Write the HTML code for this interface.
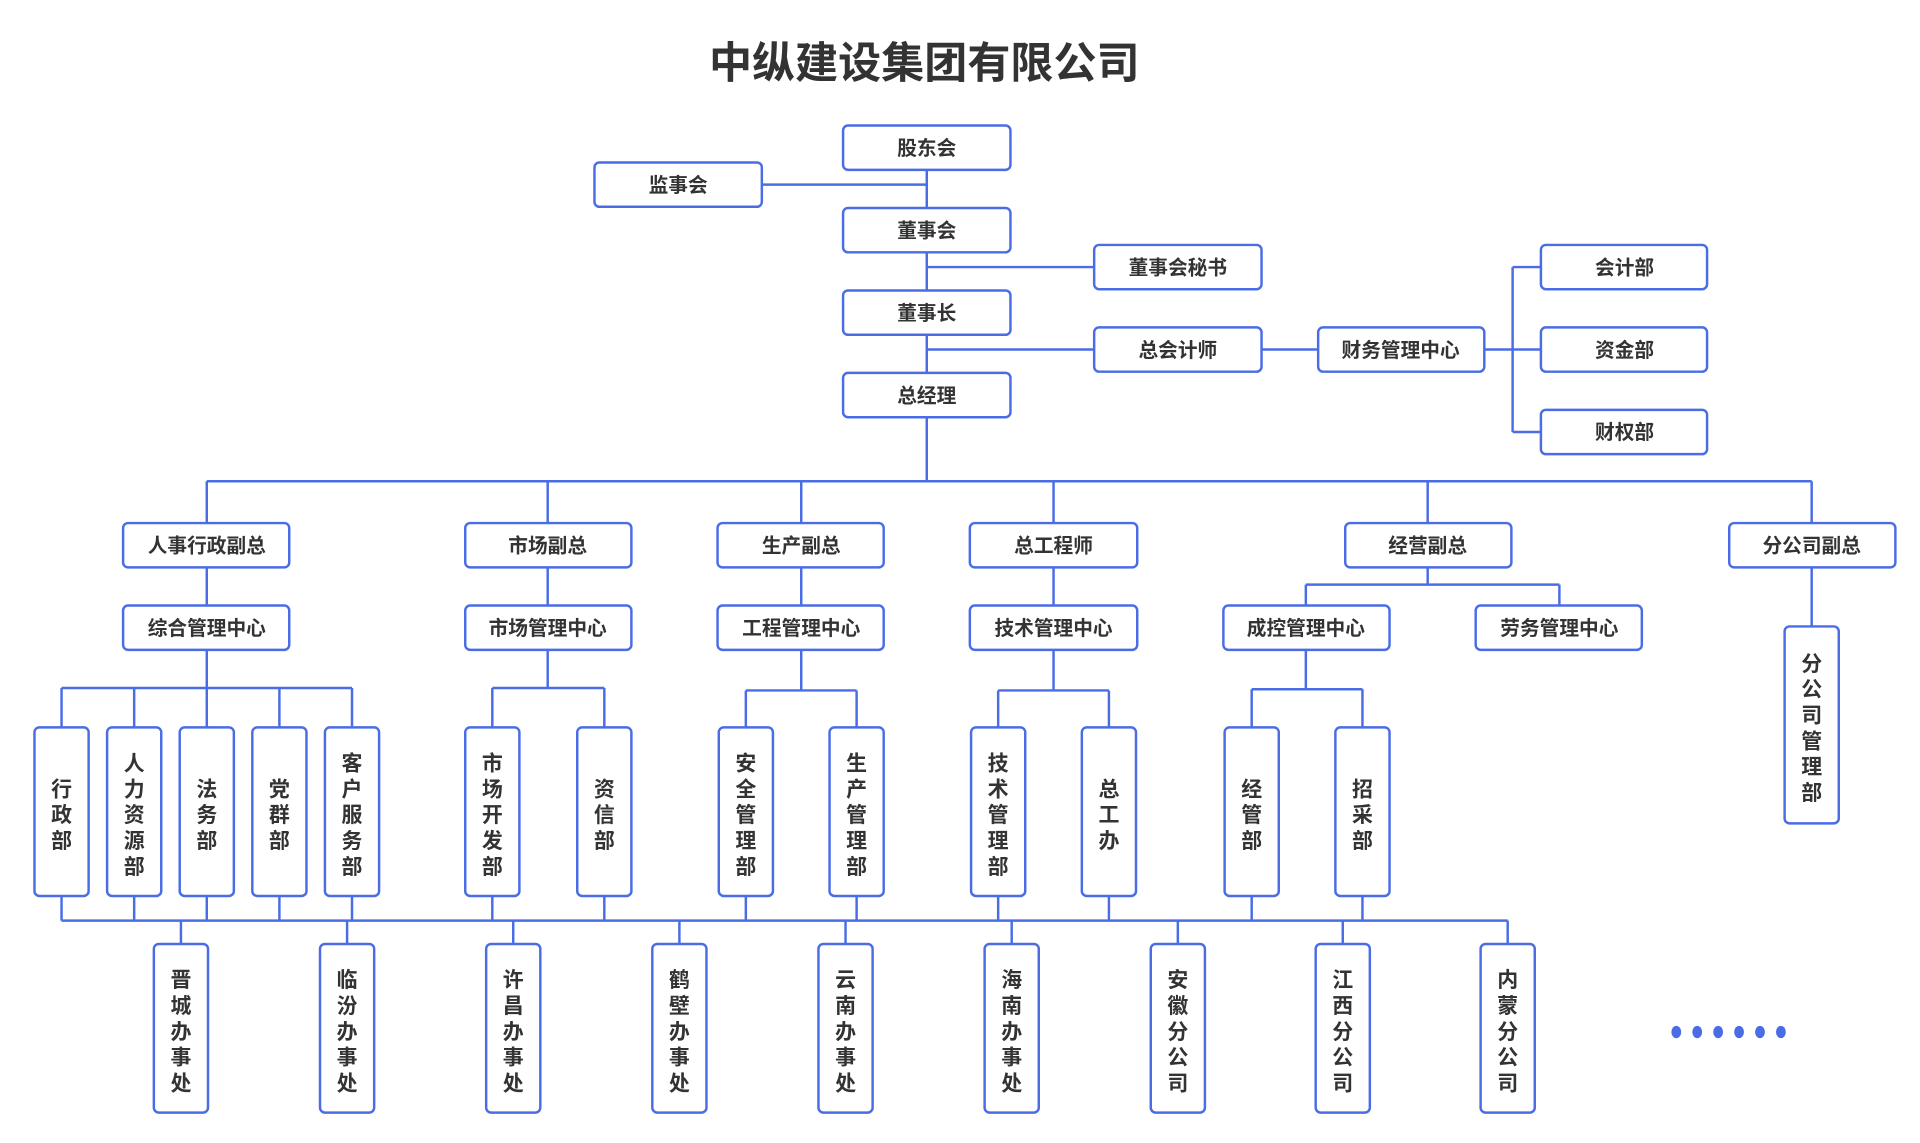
<!DOCTYPE html>
<html><head><meta charset="utf-8"><style>
html,body{margin:0;padding:0;background:#fff;}
svg{display:block;}
text{font-family:"Liberation Sans","Noto Sans CJK SC",sans-serif;font-weight:bold;fill:#333;}
.b{fill:#fff;stroke:#4a6de5;stroke-width:2;}
.l{stroke:#4a6de5;stroke-width:2;fill:none;}
.t{font-size:16px;text-anchor:middle;dominant-baseline:central;}
.v{font-size:17px;text-anchor:middle;}
</style></head><body>
<svg width="1920" height="1143" viewBox="0 0 1560 928.7" xmlns="http://www.w3.org/2000/svg">
<text x="751" y="52" style="font-size:35px;text-anchor:middle;dominant-baseline:central;">中纵建设集团有限公司</text>
<g class="l">
<path d="M753 138V303M619 150H753M753 217H889M753 284H889M1025 284H1071M1206 284H1229M1229 217V351M1229 217H1252M1229 284H1252M1229 351H1252"/>
<path d="M753 339V391M168 391H1472M168 391V425M445 391V425M651 391V425M856 391V425M1160 391V425M1472 391V425"/>
<path d="M168 461V492M445 461V492M651 461V492M856 461V492M1160 461V475M1061 475H1267M1061 475V492M1267 475V492M1472 461V509"/>
<path d="M168 528V559M50 559H286M50 559V591M109 559V591M168 559V591M227 559V591M286 559V591"/>
<path d="M445 528V559M400 559H491M400 559V591M491 559V591"/>
<path d="M651 528V561M606 561H696M606 561V591M696 561V591"/>
<path d="M856 528V561M811 561H901M811 561V591M901 561V591"/>
<path d="M1061 528V560M1017 560H1107M1017 560V591M1107 560V591"/>
<path d="M50 728V748M109 728V748M168 728V748M227 728V748M286 728V748M400 728V748M491 728V748M606 728V748M696 728V748M811 728V748M901 728V748M1017 728V748M1107 728V748M50 748H1225"/>
<path d="M147 748V767M282 748V767M417 748V767M552 748V767M687 748V767M822 748V767M957 748V767M1091 748V767M1225 748V767"/>
</g>
<g>
<rect class="b" x="685" y="102" width="136" height="36" rx="4"/><text class="t" x="753" y="121">股东会</text>
<rect class="b" x="483" y="132" width="136" height="36" rx="4"/><text class="t" x="551" y="151">监事会</text>
<rect class="b" x="685" y="169" width="136" height="36" rx="4"/><text class="t" x="753" y="188">董事会</text>
<rect class="b" x="889" y="199" width="136" height="36" rx="4"/><text class="t" x="957" y="218">董事会秘书</text>
<rect class="b" x="685" y="236" width="136" height="36" rx="4"/><text class="t" x="753" y="255">董事长</text>
<rect class="b" x="889" y="266" width="136" height="36" rx="4"/><text class="t" x="957" y="285">总会计师</text>
<rect class="b" x="1071" y="266" width="135" height="36" rx="4"/><text class="t" x="1138" y="285">财务管理中心</text>
<rect class="b" x="1252" y="199" width="135" height="36" rx="4"/><text class="t" x="1320" y="218">会计部</text>
<rect class="b" x="1252" y="266" width="135" height="36" rx="4"/><text class="t" x="1320" y="285">资金部</text>
<rect class="b" x="1252" y="333" width="135" height="36" rx="4"/><text class="t" x="1320" y="352">财权部</text>
<rect class="b" x="685" y="303" width="136" height="36" rx="4"/><text class="t" x="753" y="322">总经理</text>

<rect class="b" x="100" y="425" width="135" height="36" rx="4"/><text class="t" x="168" y="444">人事行政副总</text>
<rect class="b" x="378" y="425" width="135" height="36" rx="4"/><text class="t" x="445" y="444">市场副总</text>
<rect class="b" x="583" y="425" width="135" height="36" rx="4"/><text class="t" x="651" y="444">生产副总</text>
<rect class="b" x="788" y="425" width="136" height="36" rx="4"/><text class="t" x="856" y="444">总工程师</text>
<rect class="b" x="1093" y="425" width="135" height="36" rx="4"/><text class="t" x="1160" y="444">经营副总</text>
<rect class="b" x="1405" y="425" width="135" height="36" rx="4"/><text class="t" x="1472" y="444">分公司副总</text>

<rect class="b" x="100" y="492" width="135" height="36" rx="4"/><text class="t" x="168" y="511">综合管理中心</text>
<rect class="b" x="378" y="492" width="135" height="36" rx="4"/><text class="t" x="445" y="511">市场管理中心</text>
<rect class="b" x="583" y="492" width="135" height="36" rx="4"/><text class="t" x="651" y="511">工程管理中心</text>
<rect class="b" x="788" y="492" width="136" height="36" rx="4"/><text class="t" x="856" y="511">技术管理中心</text>
<rect class="b" x="994" y="492" width="135" height="36" rx="4"/><text class="t" x="1061" y="511">成控管理中心</text>
<rect class="b" x="1199" y="492" width="135" height="36" rx="4"/><text class="t" x="1267" y="511">劳务管理中心</text>

<rect class="b" x="1450" y="509" width="44" height="160" rx="4"/>
<text class="v" x="1472"><tspan x="1472" y="545">分</tspan><tspan x="1472" y="566">公</tspan><tspan x="1472" y="587">司</tspan><tspan x="1472" y="608">管</tspan><tspan x="1472" y="629">理</tspan><tspan x="1472" y="650">部</tspan></text>

<rect class="b" x="28" y="591" width="44" height="137" rx="4"/>
<text class="v"><tspan x="50" y="647">行</tspan><tspan x="50" y="668">政</tspan><tspan x="50" y="689">部</tspan></text>
<rect class="b" x="87" y="591" width="44" height="137" rx="4"/>
<text class="v"><tspan x="109" y="626">人</tspan><tspan x="109" y="647">力</tspan><tspan x="109" y="668">资</tspan><tspan x="109" y="689">源</tspan><tspan x="109" y="710">部</tspan></text>
<rect class="b" x="146" y="591" width="44" height="137" rx="4"/>
<text class="v"><tspan x="168" y="647">法</tspan><tspan x="168" y="668">务</tspan><tspan x="168" y="689">部</tspan></text>
<rect class="b" x="205" y="591" width="44" height="137" rx="4"/>
<text class="v"><tspan x="227" y="647">党</tspan><tspan x="227" y="668">群</tspan><tspan x="227" y="689">部</tspan></text>
<rect class="b" x="264" y="591" width="44" height="137" rx="4"/>
<text class="v"><tspan x="286" y="626">客</tspan><tspan x="286" y="647">户</tspan><tspan x="286" y="668">服</tspan><tspan x="286" y="689">务</tspan><tspan x="286" y="710">部</tspan></text>
<rect class="b" x="378" y="591" width="44" height="137" rx="4"/>
<text class="v"><tspan x="400" y="626">市</tspan><tspan x="400" y="647">场</tspan><tspan x="400" y="668">开</tspan><tspan x="400" y="689">发</tspan><tspan x="400" y="710">部</tspan></text>
<rect class="b" x="469" y="591" width="44" height="137" rx="4"/>
<text class="v"><tspan x="491" y="647">资</tspan><tspan x="491" y="668">信</tspan><tspan x="491" y="689">部</tspan></text>
<rect class="b" x="584" y="591" width="44" height="137" rx="4"/>
<text class="v"><tspan x="606" y="626">安</tspan><tspan x="606" y="647">全</tspan><tspan x="606" y="668">管</tspan><tspan x="606" y="689">理</tspan><tspan x="606" y="710">部</tspan></text>
<rect class="b" x="674" y="591" width="44" height="137" rx="4"/>
<text class="v"><tspan x="696" y="626">生</tspan><tspan x="696" y="647">产</tspan><tspan x="696" y="668">管</tspan><tspan x="696" y="689">理</tspan><tspan x="696" y="710">部</tspan></text>
<rect class="b" x="789" y="591" width="44" height="137" rx="4"/>
<text class="v"><tspan x="811" y="626">技</tspan><tspan x="811" y="647">术</tspan><tspan x="811" y="668">管</tspan><tspan x="811" y="689">理</tspan><tspan x="811" y="710">部</tspan></text>
<rect class="b" x="879" y="591" width="44" height="137" rx="4"/>
<text class="v"><tspan x="901" y="647">总</tspan><tspan x="901" y="668">工</tspan><tspan x="901" y="689">办</tspan></text>
<rect class="b" x="995" y="591" width="44" height="137" rx="4"/>
<text class="v"><tspan x="1017" y="647">经</tspan><tspan x="1017" y="668">管</tspan><tspan x="1017" y="689">部</tspan></text>
<rect class="b" x="1085" y="591" width="44" height="137" rx="4"/>
<text class="v"><tspan x="1107" y="647">招</tspan><tspan x="1107" y="668">采</tspan><tspan x="1107" y="689">部</tspan></text>

<rect class="b" x="125" y="767" width="44" height="137" rx="4"/>
<text class="v"><tspan x="147" y="802">晋</tspan><tspan x="147" y="823">城</tspan><tspan x="147" y="844">办</tspan><tspan x="147" y="865">事</tspan><tspan x="147" y="886">处</tspan></text>
<rect class="b" x="260" y="767" width="44" height="137" rx="4"/>
<text class="v"><tspan x="282" y="802">临</tspan><tspan x="282" y="823">汾</tspan><tspan x="282" y="844">办</tspan><tspan x="282" y="865">事</tspan><tspan x="282" y="886">处</tspan></text>
<rect class="b" x="395" y="767" width="44" height="137" rx="4"/>
<text class="v"><tspan x="417" y="802">许</tspan><tspan x="417" y="823">昌</tspan><tspan x="417" y="844">办</tspan><tspan x="417" y="865">事</tspan><tspan x="417" y="886">处</tspan></text>
<rect class="b" x="530" y="767" width="44" height="137" rx="4"/>
<text class="v"><tspan x="552" y="802">鹤</tspan><tspan x="552" y="823">壁</tspan><tspan x="552" y="844">办</tspan><tspan x="552" y="865">事</tspan><tspan x="552" y="886">处</tspan></text>
<rect class="b" x="665" y="767" width="44" height="137" rx="4"/>
<text class="v"><tspan x="687" y="802">云</tspan><tspan x="687" y="823">南</tspan><tspan x="687" y="844">办</tspan><tspan x="687" y="865">事</tspan><tspan x="687" y="886">处</tspan></text>
<rect class="b" x="800" y="767" width="44" height="137" rx="4"/>
<text class="v"><tspan x="822" y="802">海</tspan><tspan x="822" y="823">南</tspan><tspan x="822" y="844">办</tspan><tspan x="822" y="865">事</tspan><tspan x="822" y="886">处</tspan></text>
<rect class="b" x="935" y="767" width="44" height="137" rx="4"/>
<text class="v"><tspan x="957" y="802">安</tspan><tspan x="957" y="823">徽</tspan><tspan x="957" y="844">分</tspan><tspan x="957" y="865">公</tspan><tspan x="957" y="886">司</tspan></text>
<rect class="b" x="1069" y="767" width="44" height="137" rx="4"/>
<text class="v"><tspan x="1091" y="802">江</tspan><tspan x="1091" y="823">西</tspan><tspan x="1091" y="844">分</tspan><tspan x="1091" y="865">公</tspan><tspan x="1091" y="886">司</tspan></text>
<rect class="b" x="1203" y="767" width="44" height="137" rx="4"/>
<text class="v"><tspan x="1225" y="802">内</tspan><tspan x="1225" y="823">蒙</tspan><tspan x="1225" y="844">分</tspan><tspan x="1225" y="865">公</tspan><tspan x="1225" y="886">司</tspan></text>
</g>
<g fill="#4a6de5">
<ellipse cx="1362" cy="838.5" rx="4" ry="5"/><ellipse cx="1379" cy="838.5" rx="4" ry="5"/><ellipse cx="1396" cy="838.5" rx="4" ry="5"/><ellipse cx="1413" cy="838.5" rx="4" ry="5"/><ellipse cx="1430" cy="838.5" rx="4" ry="5"/><ellipse cx="1447" cy="838.5" rx="4" ry="5"/>
</g>
</svg>
</body></html>
